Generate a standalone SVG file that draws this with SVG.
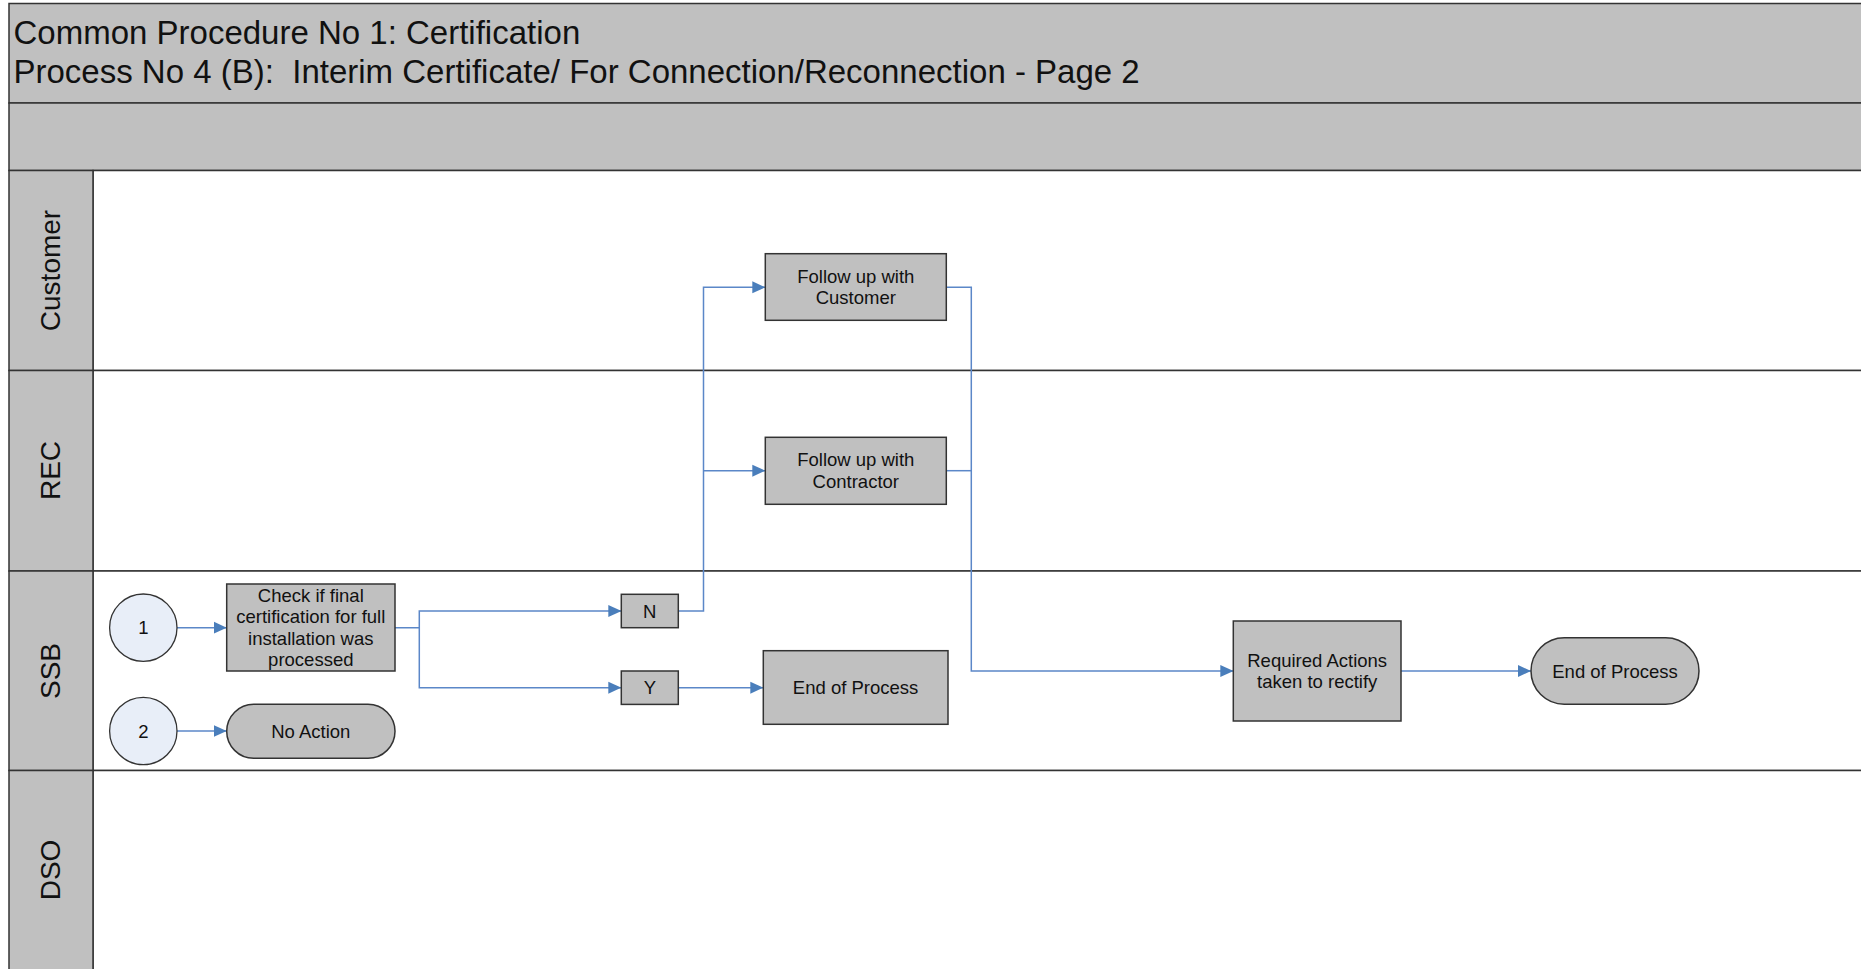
<svg xmlns="http://www.w3.org/2000/svg" width="1861" height="969" viewBox="0 0 1861 969">
  <style>
    .band { fill: #c0c0c0; stroke: #333333; stroke-width: 1.5; }
    .lane { fill: #ffffff; stroke: #333333; stroke-width: 1.5; }
    .title { font-family: "Liberation Sans", Arial, sans-serif; font-size: 33px; fill: #111111; white-space: pre; }
    .lanelabel { font-family: "Liberation Sans", Arial, sans-serif; font-size: 28px; fill: #111111; text-anchor: middle; }
    .box { fill: #c0c0c0; stroke: #333333; stroke-width: 1.5; }
    .start { fill: #e8eef8; stroke: #333333; stroke-width: 1.3; }
    .label { font-family: "Liberation Sans", Arial, sans-serif; font-size: 18.5px; fill: #111111; text-anchor: middle; }
    .conn { fill: none; stroke: #5b87c8; stroke-width: 1.5; }
    .conn.arrow { marker-end: url(#arrow); }
  </style>
  <defs>
    <marker id="arrow" markerWidth="13" markerHeight="13" viewBox="0 0 13 13" refX="13" refY="6.5" orient="auto" markerUnits="userSpaceOnUse">
      <path d="M0,0.5 L13,6.5 L0,12.5 Z" fill="#4a7ebb"/>
    </marker>
  </defs>

  <rect width="1861" height="969" fill="#ffffff"/>

  <!-- Header bands -->
  <g id="header">
    <rect class="band" x="9" y="3.5" width="1860" height="99.5"/>
    <rect class="band" x="9" y="103" width="1860" height="67.5"/>
    <text class="title" x="13.5" y="44">Common Procedure No 1: Certification</text>
    <text class="title" x="13.5" y="83" xml:space="preserve">Process No 4 (B):  Interim Certificate/ For Connection/Reconnection - Page 2</text>
  </g>

  <!-- Swimlanes -->
  <g id="lanes">
    <rect class="lane" x="93" y="170.5" width="1780" height="200"/>
    <rect class="lane" x="93" y="370.5" width="1780" height="200.5"/>
    <rect class="lane" x="93" y="571" width="1780" height="199.5"/>
    <rect class="lane" x="93" y="770.5" width="1780" height="210"/>
    <rect class="band" x="9" y="170.5" width="84" height="200"/>
    <rect class="band" x="9" y="370.5" width="84" height="200.5"/>
    <rect class="band" x="9" y="571" width="84" height="199.5"/>
    <rect class="band" x="9" y="770.5" width="84" height="210"/>
    <text class="lanelabel" transform="translate(60,270.5) rotate(-90)">Customer</text>
    <text class="lanelabel" transform="translate(60,470.5) rotate(-90)">REC</text>
    <text class="lanelabel" transform="translate(60,671) rotate(-90)">SSB</text>
    <text class="lanelabel" transform="translate(60,870) rotate(-90)">DSO</text>
  </g>

  <!-- Connectors -->
  <g id="connectors">
    <path class="conn arrow" d="M177,627.7 H226.7"/>
    <path class="conn arrow" d="M177,731 H226.7"/>
    <path class="conn arrow" d="M395,627.7 H419.3 V611 H621.3"/>
    <path class="conn arrow" d="M419.3,627.7 V687.7 H621.3"/>
    <path class="conn arrow" d="M678.3,611 H703.5 V287.3 H765.3"/>
    <path class="conn arrow" d="M703.5,470.7 H765.3"/>
    <path class="conn arrow" d="M678.3,687.7 H763.3"/>
    <path class="conn arrow" d="M946.3,287.3 H971.3 V671 H1233.3"/>
    <path class="conn" d="M946.3,470.7 H971.3"/>
    <path class="conn arrow" d="M1401,671 H1531"/>
  </g>

  <!-- Nodes -->
  <g id="start-1">
    <circle class="start" cx="143.3" cy="627.7" r="33.7"/>
    <text class="label" x="143.3" y="634.2">1</text>
  </g>
  <g id="start-2">
    <circle class="start" cx="143.3" cy="731" r="33.7"/>
    <text class="label" x="143.3" y="737.5">2</text>
  </g>
  <g id="check-final-cert">
    <rect class="box" x="226.7" y="584" width="168.3" height="87"/>
    <text class="label" x="310.8" y="601.5">Check if final</text>
    <text class="label" x="310.8" y="623">certification for full</text>
    <text class="label" x="310.8" y="644.5">installation was</text>
    <text class="label" x="310.8" y="666">processed</text>
  </g>
  <g id="no-action">
    <rect class="box" x="226.7" y="704.3" width="168.3" height="54" rx="27" ry="27"/>
    <text class="label" x="310.8" y="737.8">No Action</text>
  </g>
  <g id="decision-n">
    <rect class="box" x="621.3" y="594.3" width="57" height="33.4"/>
    <text class="label" x="649.8" y="617.5">N</text>
  </g>
  <g id="decision-y">
    <rect class="box" x="621.3" y="671" width="57" height="33.4"/>
    <text class="label" x="649.8" y="694.2">Y</text>
  </g>
  <g id="end-of-process-1">
    <rect class="box" x="763.3" y="650.7" width="184.7" height="73.6"/>
    <text class="label" x="855.6" y="694">End of Process</text>
  </g>
  <g id="follow-up-customer">
    <rect class="box" x="765.3" y="253.7" width="181" height="66.6"/>
    <text class="label" x="855.8" y="282.5">Follow up with</text>
    <text class="label" x="855.8" y="304">Customer</text>
  </g>
  <g id="follow-up-contractor">
    <rect class="box" x="765.3" y="437.3" width="181" height="67"/>
    <text class="label" x="855.8" y="466.3">Follow up with</text>
    <text class="label" x="855.8" y="487.8">Contractor</text>
  </g>
  <g id="required-actions">
    <rect class="box" x="1233.3" y="621" width="167.7" height="100"/>
    <text class="label" x="1317.2" y="666.7">Required Actions</text>
    <text class="label" x="1317.2" y="688.2">taken to rectify</text>
  </g>
  <g id="end-of-process-2">
    <rect class="box" x="1531" y="637.7" width="168" height="66.6" rx="33.3" ry="33.3"/>
    <text class="label" x="1615" y="677.5">End of Process</text>
  </g>
</svg>
